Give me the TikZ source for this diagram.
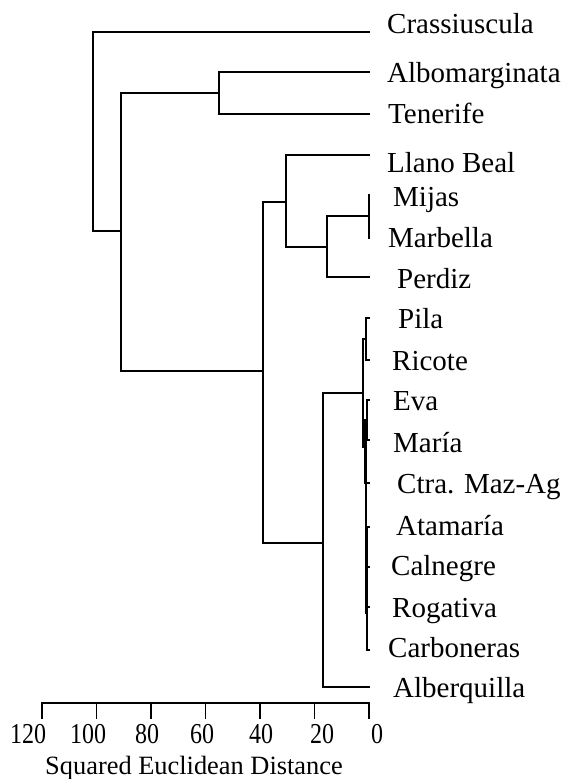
\documentclass[tikz,border=0pt]{standalone}
\usepackage{fontspec}
\usepackage{graphicx}
\setmainfont{Liberation Serif}
\newcommand{\tallnum}[1]{\scalebox{1}[1.2]{#1}}
\begin{document}
\begin{tikzpicture}[x=1pt,y=-1pt,
  branch/.style={draw=black,line width=1.3pt,line cap=rect},
  leaflabel/.style={anchor=base west,inner sep=0pt,font=\fontsize{29}{29}\selectfont},
  ticklabel/.style={anchor=base,inner sep=0pt,font=\fontsize{24}{24}\selectfont},
  axistitle/.style={anchor=base west,inner sep=0pt,font=\fontsize{26.4}{26.4}\selectfont}]
\useasboundingbox (0,0) rectangle (564,779);

% leaf ends (distance 0)
\coordinate (lCra) at (369,32);
\coordinate (lAlb) at (369,72);
\coordinate (lTen) at (369,114);
\coordinate (lLla) at (369,155);
\coordinate (lMij) at (369,195);
\coordinate (lMar) at (369,238);
\coordinate (lPer) at (369,277);
\coordinate (lPil) at (369,318);
\coordinate (lRic) at (369,360);
\coordinate (lEva) at (369,400);
\coordinate (lMaria) at (369,440);
\coordinate (lCtr) at (369,483);
\coordinate (lAta) at (369,527);
\coordinate (lCal) at (369,567);
\coordinate (lRog) at (369,607);
\coordinate (lCar) at (369,650);
\coordinate (lAbq) at (369,687);

% leaf labels
\node[leaflabel] (tCra) at (387,33) {Crassiuscula};
\node[leaflabel] (tAlb) at (387,82) {Albomarginata};
\node[leaflabel] (tTen) at (388,123) {Tenerife};
\node[leaflabel] (tLla) at (387,172) {Llano Beal};
\node[leaflabel] (tMij) at (393,206) {Mijas};
\node[leaflabel] (tMar) at (388,247) {Marbella};
\node[leaflabel] (tPer) at (397,288) {Perdiz};
\node[leaflabel] (tPil) at (398,328) {Pila};
\node[leaflabel] (tRic) at (392,370) {Ricote};
\node[leaflabel] (tEva) at (393,410) {Eva};
\node[leaflabel] (tMaria) at (393,452) {María};
\node[leaflabel] (tCtr) at (397,493) {Ctra. Maz-Ag};
\node[leaflabel] (tAta) at (396,535) {Atamaría};
\node[leaflabel] (tCal) at (391,575) {Calnegre};
\node[leaflabel] (tRog) at (392,617) {Rogativa};
\node[leaflabel] (tCar) at (388,657) {Carboneras};
\node[leaflabel] (tAbq) at (393,697) {Alberquilla};

% cluster junctions: (height, attachment point of the parent branch)
\coordinate (cM1) at (369,216);
\coordinate (cM2) at (327,247);
\coordinate (cM3) at (286,202);
\coordinate (cP1) at (366,339);
\coordinate (cE1) at (367,420);
\coordinate (cE2) at (365,440);
\coordinate (cA1) at (367,547);
\coordinate (cA2) at (367,577);
\coordinate (cA3) at (367,613);
\coordinate (cG1) at (366,447);
\coordinate (cG2) at (363,393);
\coordinate (cG3) at (323,543);
\coordinate (cG4) at (263,371);
\coordinate (cT1) at (219,93);
\coordinate (cG5) at (121,231);
\coordinate (cR)  at (93,130);

% dendrogram branches
\draw[branch] (lMij) -| (cM1) |- (lMar);
\draw[branch] (cM1) -| (cM2) |- (lPer);
\draw[branch] (lLla) -| (cM3) |- (cM2);
\draw[branch] (lPil) -| (cP1) |- (lRic);
\draw[branch] (lEva) -| (cE1) |- (lMaria);
\draw[branch] (cE1) -| (cE2) |- (lCtr);
\draw[branch] (lAta) -| (cA1) |- (lCal);
\draw[branch] (cA1) -| (cA2) |- (lRog);
\draw[branch] (cA2) -| (cA3) |- (lCar);
\draw[branch] (cE2) -| (cG1) |- (cA3);
\draw[branch] (cP1) -| (cG2) |- (cG1);
\draw[branch] (cG2) -| (cG3) |- (lAbq);
\draw[branch] (cM3) -| (cG4) |- (cG3);
\draw[branch] (lAlb) -| (cT1) |- (lTen);
\draw[branch] (cT1) -| (cG5) |- (cG4);
\draw[branch] (lCra) -| (cR) |- (cG5);

% distance axis
\coordinate (ax120) at (42,703);
\coordinate (ax0) at (369,703);
\draw[branch] (ax120) -- (ax0);
\foreach \xx in {42,96.5,151,205.5,260,314.5,369}
  \draw[branch] (\xx,703) -- (\xx,718);
\node[ticklabel] (n120) at (28,743) {\tallnum{120}};
\node[ticklabel] (n100) at (88,743) {\tallnum{100}};
\node[ticklabel] (n80) at (147,743) {\tallnum{80}};
\node[ticklabel] (n60) at (202,743) {\tallnum{60}};
\node[ticklabel] (n40) at (261,743) {\tallnum{40}};
\node[ticklabel] (n20) at (322,743) {\tallnum{20}};
\node[ticklabel] (n0) at (377,743) {\tallnum{0}};
\node[axistitle] (title) at (45,774) {Squared Euclidean Distance};
\end{tikzpicture}
\end{document}
